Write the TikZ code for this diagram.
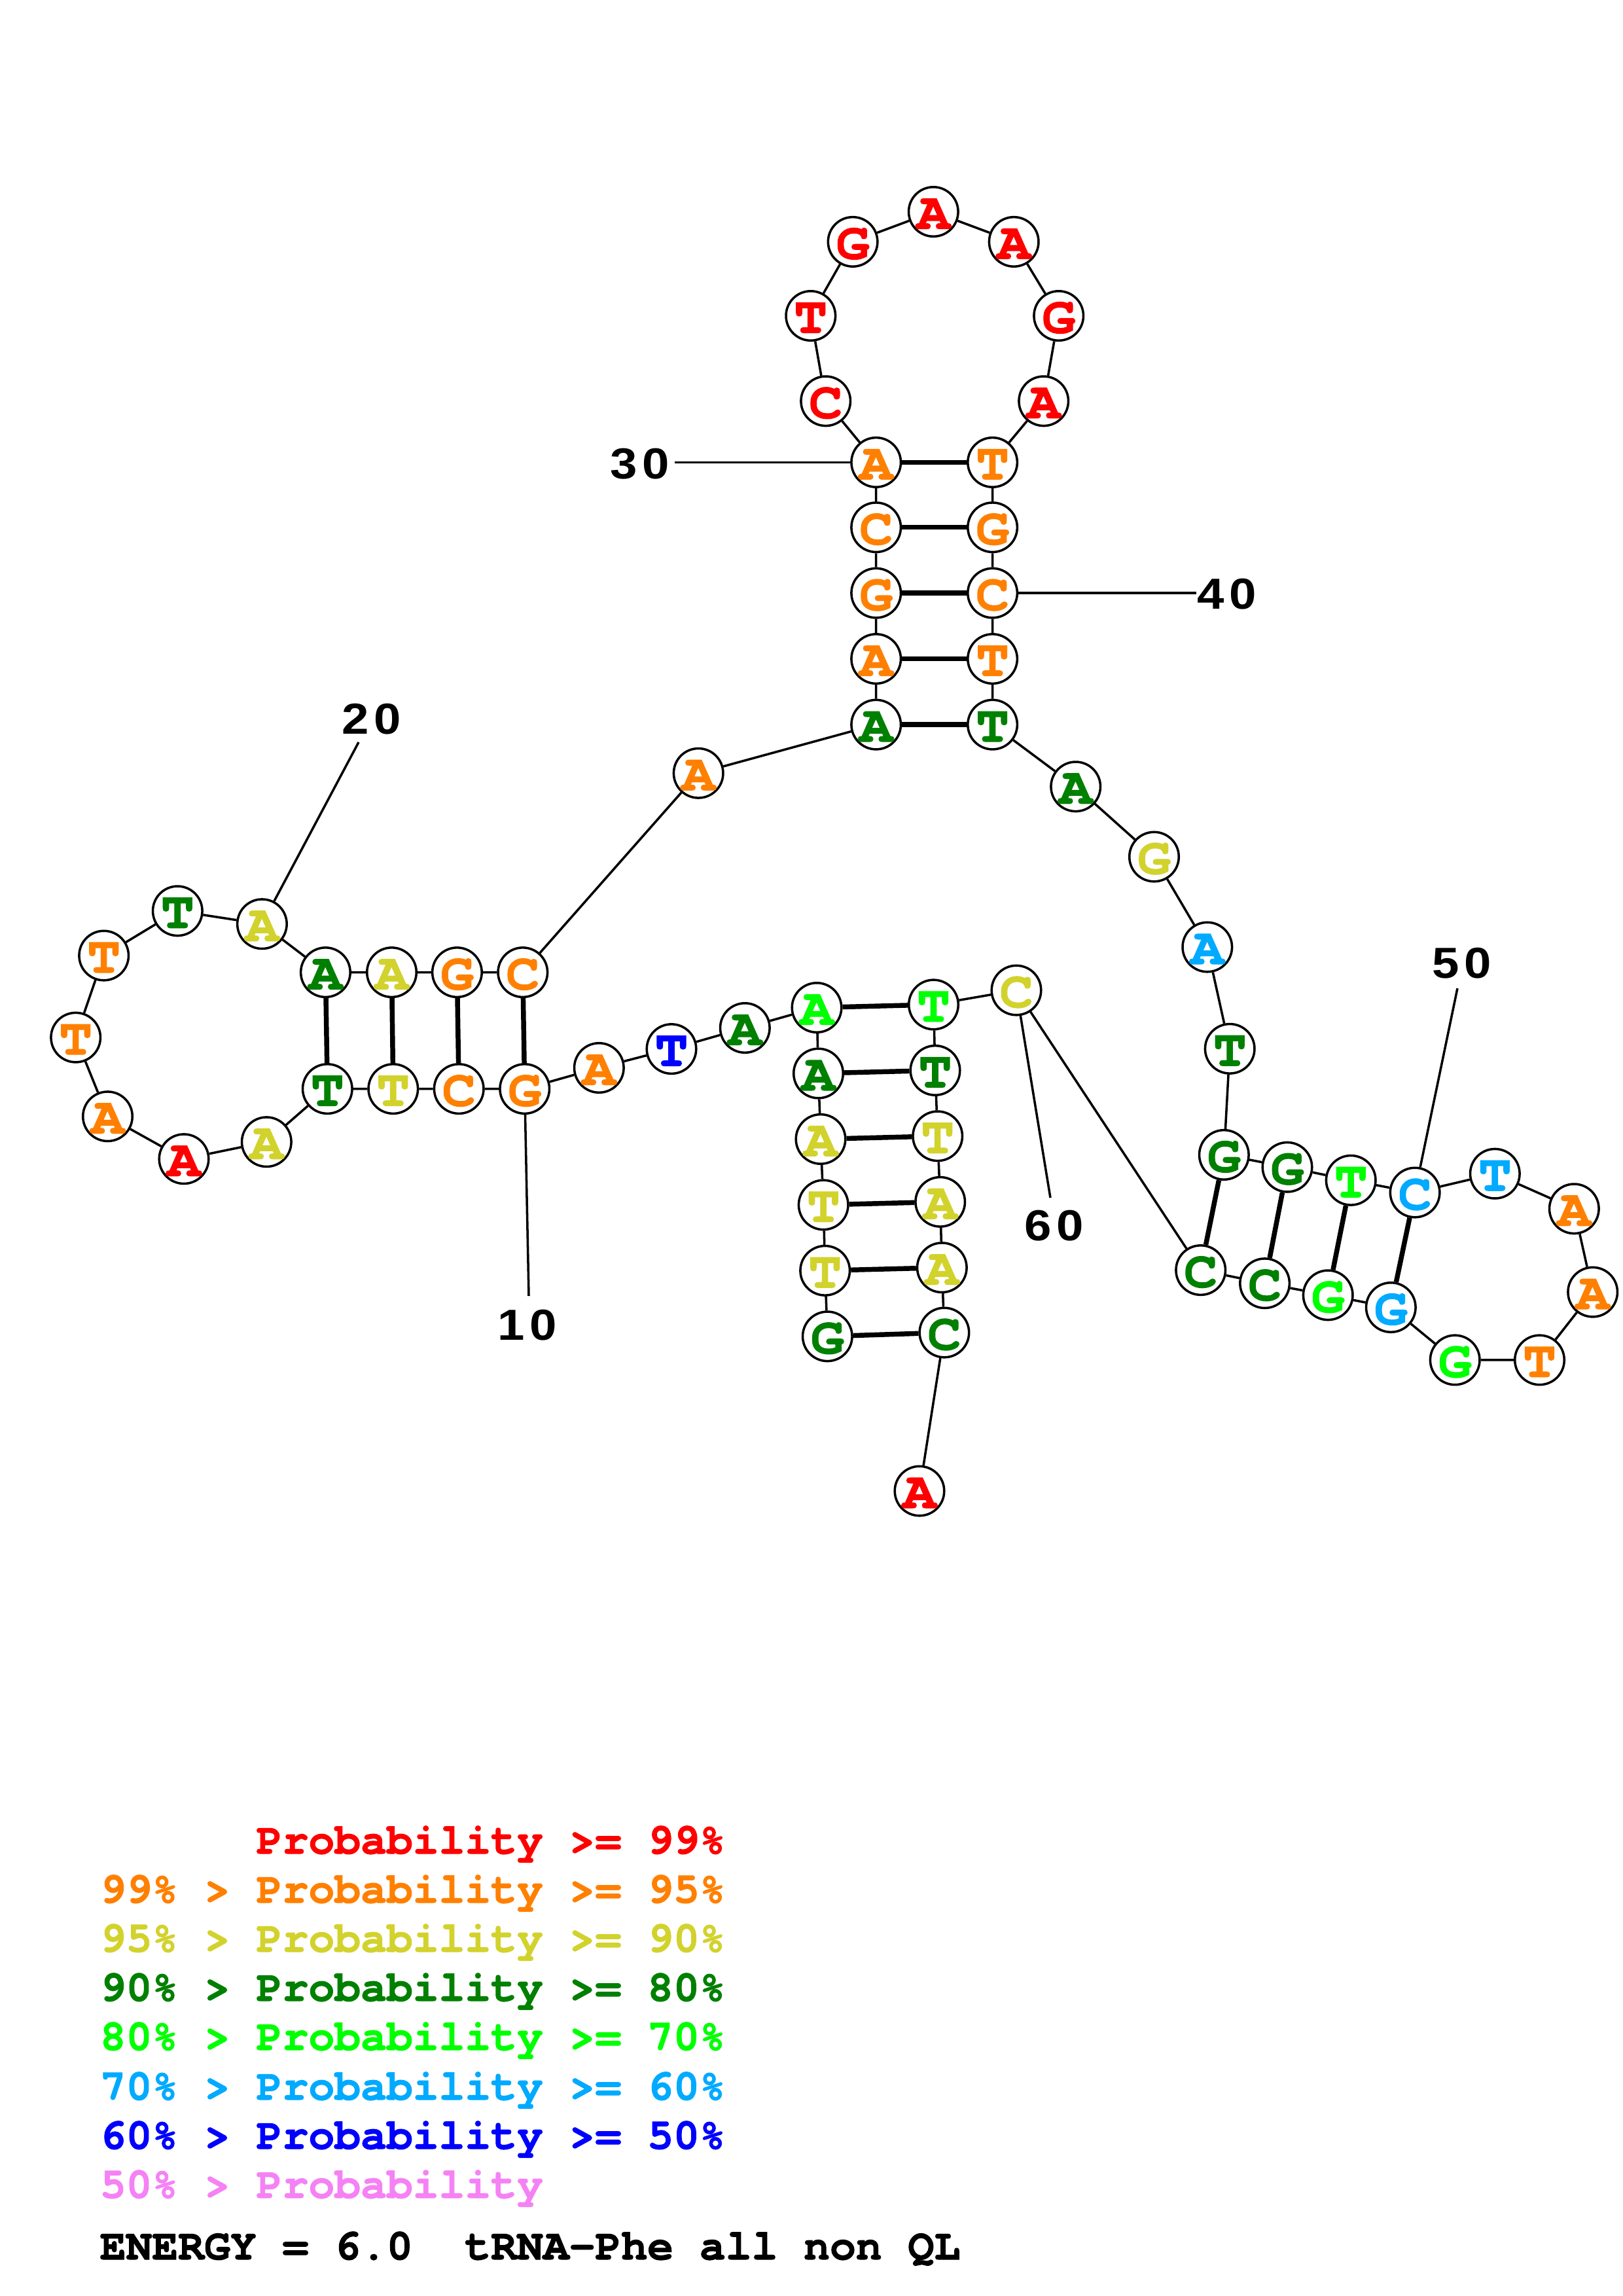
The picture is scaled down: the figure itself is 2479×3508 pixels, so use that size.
\documentclass[tikz,border=0pt]{standalone}
\usepackage{fontspec}
\newfontfamily\nucfont[FakeStretch=1.08,FakeBold=1.5]{TeX Gyre Cursor}
\newfontfamily\legfont[FakeBold=1.5]{TeX Gyre Cursor}
\newfontfamily\numfont[FakeStretch=1.12,LetterSpace=12]{Liberation Sans}
\definecolor{cRed}{RGB}{255,0,0}
\definecolor{cOrange}{RGB}{255,128,0}
\definecolor{cYellow}{RGB}{210,210,45}
\definecolor{cDGreen}{RGB}{0,128,0}
\definecolor{cBGreen}{RGB}{0,255,0}
\definecolor{cLBlue}{RGB}{0,170,255}
\definecolor{cBlue}{RGB}{0,0,255}
\definecolor{cPink}{RGB}{245,130,245}
\tikzset{
  nt/.style={circle, draw=black, line width=0.85pt, fill=white, minimum size=6.4mm, inner sep=0pt,
    text height=4.4mm, text depth=0pt,
    font=\nucfont\bfseries\fontsize{19}{19}\selectfont},
  bb/.style={line width=0.85pt, black},
  bp/.style={line width=1.8pt, black},
  lbl/.style={line width=0.85pt, black},
  num/.style={inner sep=0pt, font=\numfont\bfseries\fontsize{16}{16}\selectfont},
  leg/.style={anchor=base west, inner sep=0pt, font=\legfont\bfseries\fontsize{16}{16}\selectfont}
}
\newcommand\nt[5]{\node[nt,text=#5] (n#1) at (#2,#3) {#4};}
\begin{document}
\begin{tikzpicture}[x=0.08471mm, y=-0.08471mm]
\useasboundingbox (0,0) rectangle (2479,3508);
\fill[white] (0,0) rectangle (2479,3508);
% nucleotides
\nt{1}{1264.3}{2041.8}{G}{cDGreen}
\nt{2}{1260.7}{1941.3}{T}{cYellow}
\nt{3}{1258.2}{1840.9}{T}{cYellow}
\nt{4}{1254}{1740.4}{A}{cYellow}
\nt{5}{1250.5}{1640}{A}{cDGreen}
\nt{6}{1248}{1539.5}{A}{cBGreen}
\nt{7}{1138.3}{1570.5}{A}{cDGreen}
\nt{8}{1026}{1602.6}{T}{cBlue}
\nt{9}{915.3}{1631.5}{A}{cOrange}
\nt{10}{801.7}{1663.6}{G}{cOrange}
\nt{11}{701.2}{1663.6}{C}{cOrange}
\nt{12}{600.8}{1663.6}{T}{cYellow}
\nt{13}{500.3}{1663.6}{T}{cDGreen}
\nt{14}{407.3}{1744.7}{A}{cYellow}
\nt{15}{281}{1770.7}{A}{cRed}
\nt{16}{164.5}{1705.7}{A}{cOrange}
\nt{17}{115.7}{1585.1}{T}{cOrange}
\nt{18}{158.7}{1460}{T}{cOrange}
\nt{19}{271.3}{1391.8}{T}{cDGreen}
\nt{20}{400.4}{1411.7}{A}{cYellow}
\nt{21}{497.4}{1485.6}{A}{cDGreen}
\nt{22}{598.5}{1485.6}{A}{cYellow}
\nt{23}{698.4}{1485.6}{G}{cOrange}
\nt{24}{798.8}{1485.6}{C}{cOrange}
\nt{25}{1067.2}{1181.3}{A}{cOrange}
\nt{26}{1338.7}{1107.1}{A}{cDGreen}
\nt{27}{1338.7}{1006.6}{A}{cOrange}
\nt{28}{1338.7}{906.1}{G}{cOrange}
\nt{29}{1338.7}{805.7}{C}{cOrange}
\nt{30}{1338.7}{706.4}{A}{cOrange}
\nt{31}{1261.7}{612.8}{C}{cRed}
\nt{32}{1238.8}{482.5}{T}{cRed}
\nt{33}{1303.1}{369.4}{G}{cRed}
\nt{34}{1426.3}{323.5}{A}{cRed}
\nt{35}{1549.2}{369.4}{A}{cRed}
\nt{36}{1617.7}{482.5}{G}{cRed}
\nt{37}{1594.7}{612.8}{A}{cRed}
\nt{38}{1516.6}{706.4}{T}{cOrange}
\nt{39}{1516.6}{805.7}{G}{cOrange}
\nt{40}{1516.6}{906.1}{C}{cOrange}
\nt{41}{1516.6}{1006.6}{T}{cOrange}
\nt{42}{1516.6}{1107.1}{T}{cDGreen}
\nt{43}{1643.7}{1201.8}{A}{cDGreen}
\nt{44}{1763.5}{1309}{G}{cYellow}
\nt{45}{1844.8}{1447}{A}{cLBlue}
\nt{46}{1879.2}{1602.3}{T}{cDGreen}
\nt{47}{1870.3}{1764.4}{G}{cDGreen}
\nt{48}{1967}{1783.2}{G}{cDGreen}
\nt{49}{2064.2}{1803.3}{T}{cBGreen}
\nt{50}{2162.1}{1822}{C}{cLBlue}
\nt{51}{2284.3}{1793.2}{T}{cLBlue}
\nt{52}{2405.3}{1846.8}{A}{cOrange}
\nt{53}{2433.7}{1974.1}{A}{cOrange}
\nt{54}{2352.5}{2077.9}{T}{cOrange}
\nt{55}{2223.2}{2077.9}{G}{cBGreen}
\nt{56}{2125.3}{1997.5}{G}{cLBlue}
\nt{57}{2029.2}{1978.8}{G}{cBGreen}
\nt{58}{1932.6}{1960.7}{C}{cDGreen}
\nt{59}{1834.7}{1940.6}{C}{cDGreen}
\nt{60}{1553}{1513}{C}{cYellow}
\nt{61}{1426.5}{1534.9}{T}{cBGreen}
\nt{62}{1429}{1635.4}{T}{cDGreen}
\nt{63}{1432.7}{1735.8}{T}{cYellow}
\nt{64}{1436.7}{1836.3}{A}{cYellow}
\nt{65}{1439.3}{1936.7}{A}{cYellow}
\nt{66}{1442.9}{2036}{C}{cDGreen}
\nt{67}{1405}{2278}{A}{cRed}
% backbone
\draw[bb] (n1) -- (n2) -- (n3) -- (n4) -- (n5) -- (n6) -- (n7) -- (n8) -- (n9) -- (n10)
  -- (n11) -- (n12) -- (n13) -- (n14) -- (n15) -- (n16) -- (n17) -- (n18) -- (n19) -- (n20)
  -- (n21) -- (n22) -- (n23) -- (n24) -- (n25) -- (n26) -- (n27) -- (n28) -- (n29) -- (n30)
  -- (n31) -- (n32) -- (n33) -- (n34) -- (n35) -- (n36) -- (n37) -- (n38) -- (n39) -- (n40)
  -- (n41) -- (n42) -- (n43) -- (n44) -- (n45) -- (n46) -- (n47) -- (n48) -- (n49) -- (n50)
  -- (n51) -- (n52) -- (n53) -- (n54) -- (n55) -- (n56) -- (n57) -- (n58) -- (n59) -- (n60)
  -- (n61) -- (n62) -- (n63) -- (n64) -- (n65) -- (n66) -- (n67);
% base pairs
\foreach \a/\b in {1/66,2/65,3/64,4/63,5/62,6/61,10/24,11/23,12/22,13/21,
                   26/42,27/41,28/40,29/39,30/38,47/59,48/58,49/57,50/56}
  \draw[bp] (n\a) -- (n\b);
% numbering
\coordinate (e10) at (808,1980);
\coordinate (e20) at (548,1134);
\coordinate (e30) at (1031,706.4);
\coordinate (e40) at (1828,906.1);
\coordinate (e50) at (2227,1510);
\coordinate (e60) at (1605,1830);
\draw[lbl] (n10) -- (e10);
\draw[lbl] (n20) -- (e20);
\draw[lbl] (n30) -- (e30);
\draw[lbl] (n40) -- (e40);
\draw[lbl] (n50) -- (e50);
\draw[lbl] (n60) -- (e60);
\node[num] (t10) at (805.5,2025) {10};
\node[num] (t20) at (568,1099) {20};
\node[num] (t30) at (978,709) {30};
\node[num] (t40) at (1875,908) {40};
\node[num] (t50) at (2234,1472) {50};
\node[num] (t60) at (1611,1873) {60};
% legend
\node[leg, text=cRed] (l1) at (391,2832) {Probability >= 99\%};
\node[leg, text=cOrange] (l2) at (152,2907) {99\% > Probability >= 95\%};
\node[leg, text=cYellow] (l3) at (152,2982) {95\% > Probability >= 90\%};
\node[leg, text=cDGreen] (l4) at (152,3057) {90\% > Probability >= 80\%};
\node[leg, text=cBGreen] (l5) at (152,3132) {80\% > Probability >= 70\%};
\node[leg, text=cLBlue] (l6) at (152,3208) {70\% > Probability >= 60\%};
\node[leg, text=cBlue] (l7) at (152,3283) {60\% > Probability >= 50\%};
\node[leg, text=cPink] (l8) at (152,3358) {50\% > Probability};
\node[leg, text=black] (l9) at (152,3452) {ENERGY = 6.0~~tRNA-Phe all non QL};
\end{tikzpicture}
\end{document}
